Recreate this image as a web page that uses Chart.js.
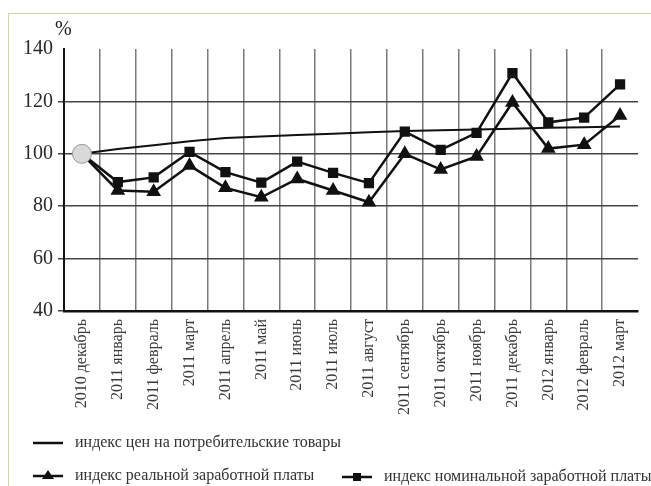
<!DOCTYPE html>
<html>
<head>
<meta charset="utf-8">
<script src="https://cdn.jsdelivr.net/npm/chart.js@4"></script>
<style>
	body { margin: 0; background: #fff; }
	#wrap { position: relative; width: 651px; height: 486px; }
	#frame { position: absolute; left: 8px; top: 13px; right: 0; bottom: 0; border-top: 1.5px solid #c8d6ad; border-left: 1.5px solid #c8d6ad; }
	canvas { position: absolute; left: 0; top: 0; }
</style>
</head>
<body>
<div id="wrap">
	<div id="frame"></div>
	<canvas id="chart" width="651" height="486"></canvas>
</div>
<script>
const months = ['2010 декабрь', '2011 январь', '2011 февраль', '2011 март', '2011 апрель', '2011 май', '2011 июнь', '2011 июль',
	'2011 август', '2011 сентябрь', '2011 октябрь', '2011 ноябрь', '2011 декабрь', '2012 январь', '2012 февраль', '2012 март'];
const cpi = [100, 101.8, 103.3, 104.8, 106, 106.6, 107.2, 107.7, 108.2, 108.7, 109, 109.3, 109.6, 109.9, 110.1, 110.4];
const realWage = [100, 86, 85.5, 95.5, 87, 83.4, 90.4, 86, 81.5, 100, 94, 99, 119.6, 102, 103.5, 114.6];
const nominalWage = [100, 89.2, 91, 100.7, 93, 89, 97, 92.7, 88.8, 108.5, 101.5, 108, 130.8, 112, 113.8, 126.5];
const yTicks = [40, 60, 80, 100, 120, 140];
const legendNames = ['индекс цен на потребительские товары', 'индекс реальной заработной платы', 'индекс номинальной заработной платы'];

const serif = '"Liberation Serif", "DejaVu Serif", serif';
const hidden0 = (r) => months.map((m, i) => i === 0 ? 0 : r);

// legend + "%" label drawn straight onto the canvas
const extras = {
	id: 'extras',
	afterDraw(chart) {
		const ctx = chart.ctx;
		ctx.save();
		ctx.fillStyle = '#222';
		ctx.font = '20px ' + serif;
		ctx.textBaseline = 'middle';
		ctx.fillText('%', 55, 30);

		const item = (x, y, style, text) => {
			ctx.strokeStyle = '#111';
			ctx.lineWidth = 2.5;
			ctx.beginPath();
			ctx.moveTo(x, y);
			ctx.lineTo(x + 30, y);
			ctx.stroke();
			ctx.fillStyle = '#111';
			if (style === 'rect') ctx.fillRect(x + 11, y - 4, 8, 8);
			if (style === 'tri') {
				ctx.beginPath();
				ctx.moveTo(x + 15, y - 6);
				ctx.lineTo(x + 21, y + 3);
				ctx.lineTo(x + 9, y + 3);
				ctx.closePath();
				ctx.fill();
			}
			ctx.fillStyle = '#333';
			ctx.font = '16px ' + serif;
			ctx.textBaseline = 'middle';
			ctx.fillText(text, x + 42, y);
		};
		item(33, 443, 'line', legendNames[0]);
		item(33, 476, 'tri', legendNames[1]);
		item(342, 477, 'rect', legendNames[2]);
		ctx.restore();
	}
};

new Chart(document.getElementById('chart'), {
	type: 'line',
	data: {
		labels: months,
		datasets: [
			{
				label: legendNames[0],
				data: cpi,
				borderColor: '#111',
				borderWidth: 2,
				pointRadius: months.map((m, i) => i === 0 ? 9.5 : 0),
				pointBackgroundColor: '#d9d9d9',
				pointBorderColor: '#999',
				pointBorderWidth: 1,
				order: 0
			},
			{
				label: legendNames[1],
				data: realWage,
				borderColor: '#111',
				borderWidth: 2.5,
				pointStyle: 'triangle',
				pointRadius: hidden0(6),
				pointBackgroundColor: '#111',
				pointBorderColor: '#111',
				order: 2
			},
			{
				label: legendNames[2],
				data: nominalWage,
				borderColor: '#111',
				borderWidth: 2.5,
				pointStyle: 'rect',
				pointRadius: hidden0(5.5),
				pointBackgroundColor: '#111',
				pointBorderColor: '#111',
				order: 1
			}
		]
	},
	options: {
		responsive: false,
		animation: false,
		layout: {padding: {left: 0, top: 49, right: 13, bottom: 0}},
		plugins: {legend: {display: false}, tooltip: {enabled: false}},
		elements: {line: {tension: 0}},
		scales: {
			x: {
				offset: true,
				afterFit: (s) => { s.height = 175; },
				grid: {
					offset: true,
					color: (c) => c.tick ? '#7a7a7a' : 'rgba(0,0,0,0)',
					lineWidth: 1.5,
					drawTicks: false
				},
				border: {color: '#111', width: 2.5},
				ticks: {
					minRotation: 90,
					maxRotation: 90,
					autoSkip: false,
					padding: 8,
					color: '#3a3a3a',
					font: {family: serif, size: 16}
				}
			},
			y: {
				min: 40,
				max: 140,
				afterFit: (s) => { s.width = 64; },
				afterBuildTicks: (s) => { s.ticks = yTicks.map(v => ({value: v})); },
				grid: {
					color: (c) => c.tick && c.tick.value === 140 ? 'rgba(0,0,0,0)' : '#444',
					lineWidth: 1.5,
					tickLength: 6
				},
				border: {color: '#111', width: 2},
				ticks: {
					padding: 5,
					color: '#2a2a2a',
					font: {family: serif, size: 20}
				}
			}
		}
	},
	plugins: [extras]
});
</script>
</body>
</html>
